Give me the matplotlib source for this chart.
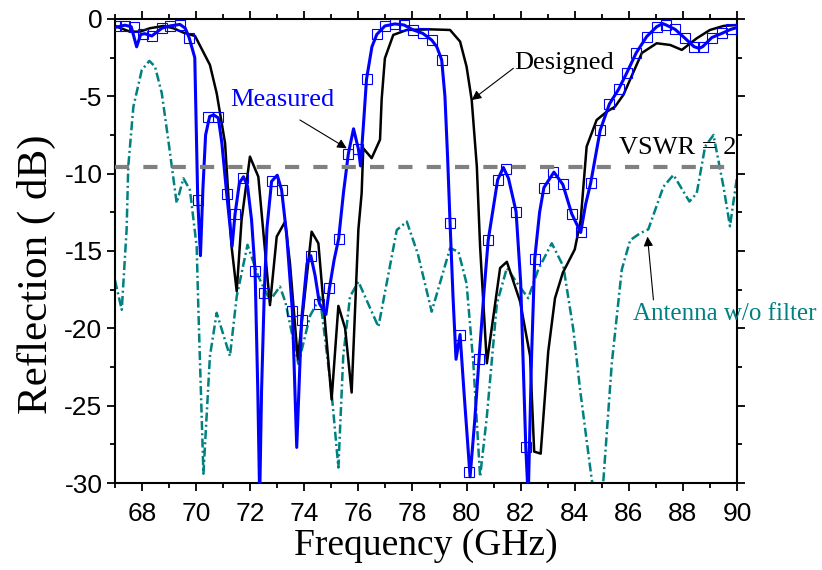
import matplotlib
matplotlib.use("Agg")
import matplotlib.pyplot as plt
from matplotlib.ticker import MultipleLocator

plt.rcParams['font.family'] = ['Liberation Serif', 'DejaVu Serif']
plt.rcParams['axes.unicode_minus'] = False

# Measured (blue) - traced curve
meas_f = [67.0, 67.37, 67.6, 67.8, 67.95, 68.1, 68.36, 68.73, 69.03, 69.4, 69.6, 69.74,
          69.95, 70.06, 70.16, 70.25, 70.35, 70.5, 70.65, 70.82, 70.95, 71.13, 71.33, 71.44,
          71.6, 71.75, 71.9, 72.05, 72.18, 72.28, 72.35, 72.42, 72.52, 72.62, 72.79, 73.0,
          73.16, 73.35, 73.56, 73.72, 73.9, 74.1, 74.24, 74.4, 74.56, 74.8, 74.93, 75.1,
          75.27, 75.45, 75.63, 75.82, 76.0, 76.08, 76.2, 76.3, 76.5, 76.68, 76.98, 77.35,
          77.69, 78.03, 78.38, 78.71, 78.9, 79.08, 79.2, 79.3, 79.39, 79.5, 79.61, 79.76,
          79.9, 80.13, 80.3, 80.46, 80.65, 80.8, 81.15, 81.36, 81.55, 81.83, 82.0, 82.19,
          82.28, 82.4, 82.52, 82.7, 82.86, 83.23, 83.56, 83.89, 84.22, 84.4, 84.59, 84.94,
          85.28, 85.62, 85.92, 86.27, 86.66, 87.03, 87.25, 87.38, 87.71, 88.08, 88.41, 88.6,
          88.73, 89.07, 89.44, 89.77, 90.0]
meas_db = [-0.55, -0.4, -0.5, -1.8, -1.0, -0.95, -1.1, -0.6, -0.45, -0.35, -0.6, -1.2,
           -2.5, -11.7, -15.3, -11.0, -7.5, -6.3, -6.2, -6.4, -8.0, -11.3, -14.7, -12.6,
           -10.6, -10.2, -10.8, -13.0, -16.3, -24.0, -31.0, -24.0, -17.7, -13.5, -10.5, -10.1,
           -11.05, -14.0, -18.9, -27.7, -19.45, -15.8, -15.3, -16.6, -18.4, -19.1, -17.4, -15.6,
           -14.2, -11.2, -8.7, -7.1, -8.4, -9.5, -6.5, -3.9, -1.8, -1.0, -0.45, -0.32,
           -0.39, -0.71, -0.93, -1.36, -1.8, -2.65, -5.0, -9.0, -13.2, -18.0, -22.0, -20.4,
           -24.0, -29.6, -26.0, -22.0, -17.5, -14.3, -10.4, -9.6, -10.3, -12.45, -17.0, -27.7,
           -31.0, -22.0, -15.5, -12.5, -10.9, -9.9, -10.7, -12.6, -13.8, -12.0, -10.6, -7.2,
           -5.5, -4.55, -3.5, -2.2, -1.14, -0.5, -0.3, -0.39, -0.67, -1.25, -1.79, -1.9,
           -1.79, -1.2, -0.93, -0.67, -0.55]

# Measured sample points (square markers)
mk_f = [67.04, 67.37, 67.7, 68.04, 68.36, 68.73, 69.03, 69.4, 69.74, 70.06, 70.45, 70.82,
        71.13, 71.44, 71.75, 72.18, 72.52, 72.79, 73.16, 73.56, 73.9, 74.24, 74.56, 74.93,
        75.27, 75.63, 76.0, 76.3, 76.68, 76.98, 77.35, 77.69, 78.03, 78.38, 78.71, 79.08,
        79.39, 79.76, 80.1, 80.46, 80.8, 81.15, 81.45, 81.83, 82.19, 82.52, 82.86, 83.2,
        83.56, 83.89, 84.22, 84.59, 84.94, 85.28, 85.62, 85.92, 86.27, 86.66, 87.03, 87.38,
        87.71, 88.08, 88.41, 88.73, 89.07, 89.44, 89.77]
mk_db = [-0.45, -0.45, -0.5, -1.0, -1.1, -0.6, -0.45, -0.4, -1.2, -11.7, -6.35, -6.35,
         -11.3, -12.6, -10.3, -16.3, -17.7, -10.5, -11.05, -18.9, -19.45, -15.3, -18.4, -17.4,
         -14.2, -8.7, -8.4, -3.9, -1.0, -0.45, -0.32, -0.39, -0.71, -0.93, -1.36, -2.65,
         -13.2, -20.4, -29.3, -22.0, -14.3, -10.4, -9.7, -12.45, -27.7, -15.5, -10.9, -9.9,
         -10.7, -12.6, -13.8, -10.6, -7.2, -5.5, -4.55, -3.5, -2.2, -1.14, -0.5, -0.39,
         -0.67, -1.25, -1.79, -1.79, -1.2, -0.93, -0.67]

# Designed (black)
des_f = [67.0, 67.55, 67.92, 68.29, 68.79, 69.16, 69.53, 69.96, 70.51, 70.76, 71.07, 71.31,
         71.5, 71.68, 71.99, 72.3, 72.73, 72.98, 73.29, 73.47, 73.76, 74.27, 74.52, 75.01,
         75.26, 75.51, 75.75, 76.0, 76.12, 76.18, 76.49, 76.8, 76.86, 76.98, 77.29, 77.79,
         78.65, 79.39, 79.76, 80.0, 80.19, 80.38, 80.5, 80.75, 81.24, 81.49, 81.98, 82.35,
         82.5, 82.74, 83.02, 83.27, 83.56, 84.0, 84.22, 84.44, 84.81, 85.18, 85.49, 85.8,
         86.48, 87.03, 87.53, 87.96, 88.51, 89.0, 89.5, 90.0]
des_db = [-0.45, -0.82, -0.82, -0.6, -0.45, -0.6, -0.88, -1.1, -2.97, -4.8, -8.03, -14.7,
          -17.6, -13.0, -8.9, -10.2, -18.5, -14.07, -13.1, -15.8, -22.0, -13.75, -14.5, -24.6,
          -18.55, -20.0, -24.15, -13.6, -11.27, -8.36, -9.0, -7.8, -5.2, -2.54, -1.03, -0.71,
          -0.67, -0.71, -1.46, -3.08, -5.24, -9.55, -14.7, -22.26, -16.1, -15.7, -18.27, -21.8,
          -27.97, -28.1, -21.5, -18.05, -16.4, -14.9, -13.0, -8.25, -6.53, -6.0, -5.67, -4.9,
          -2.2, -1.57, -1.68, -2.0, -1.25, -0.71, -0.45, -0.39]

# Antenna without filter (teal)
ant_f = [67.0, 67.25, 67.43, 67.49, 67.68, 67.99, 68.27, 68.48, 68.73, 68.97, 69.28, 69.53,
         69.77, 70.02, 70.08, 70.27, 70.51, 70.76, 71.25, 71.5, 71.9, 72.3, 72.73, 73.1,
         73.3, 73.78, 74.21, 74.58, 75.0, 75.26, 75.44, 75.69, 76.0, 76.74, 77.42, 77.79,
         78.2, 78.71, 79.39, 79.7, 80.0, 80.25, 80.5, 80.75, 81.12, 81.49, 81.92, 82.28,
         82.65, 83.15, 83.58, 83.95, 84.2, 84.63, 84.85, 85.06, 85.37, 85.74, 86.05, 86.42,
         86.72, 87.28, 87.65, 88.24, 88.51, 88.82, 89.13, 89.5, 89.74, 90.0]
ant_db = [-16.9, -18.8, -13.6, -9.55, -5.67, -3.3, -2.71, -3.08, -4.8, -7.82, -11.9, -10.3,
          -11.05, -14.7, -18.6, -29.4, -21.8, -19.0, -21.8, -17.95, -14.6, -16.65, -18.2, -17.3,
          -18.3, -22.3, -19.2, -18.0, -24.0, -29.0, -21.8, -17.95, -16.98, -19.9, -13.64, -13.1,
          -15.2, -18.92, -14.82, -15.04, -17.1, -22.26, -29.6, -25.7, -18.4, -16.1, -17.2, -18.05,
          -16.2, -14.5, -16.0, -20.1, -24.0, -29.8, -31.5, -29.8, -22.26, -16.2, -14.3, -13.85,
          -13.6, -10.84, -10.08, -11.8, -11.27, -8.25, -7.5, -10.84, -13.4, -10.2]

vswr_db = -9.54

fig = plt.figure(figsize=(8.22, 5.70), dpi=100)
ax = fig.add_axes([0.1399, 0.1526, 0.7567, 0.8141])

ax.plot(ant_f, ant_db, color='#008080', lw=1.8, ls=(0, (3.6, 1.3, 0.8, 1.3)), zorder=2)
ax.plot(des_f, des_db, color='black', lw=1.8, zorder=3)
ax.plot(meas_f, meas_db, color='#0000FF', lw=2.2, zorder=4)
ax.plot(mk_f, mk_db, ls='none', marker='s', ms=7, mfc='none', mec='#0000FF', mew=0.8, zorder=5)
ax.axhline(vswr_db, color='#808080', lw=3, ls=(0, (3.4, 3.4)), zorder=6)

ax.set_xlim(67, 90)
ax.set_ylim(-30, 0)
ax.xaxis.set_major_locator(MultipleLocator(2))
ax.xaxis.set_minor_locator(MultipleLocator(1))
ax.yaxis.set_major_locator(MultipleLocator(5))
ax.yaxis.set_minor_locator(MultipleLocator(2.5))
ax.tick_params(which='both', direction='out', top=True, right=True, width=1.3)
ax.tick_params(which='major', length=6)
ax.tick_params(which='minor', length=3.5)
ax.tick_params(axis='x', pad=8)
ax.tick_params(axis='y', pad=3)
for lab in ax.get_xticklabels() + ax.get_yticklabels():
    lab.set_fontfamily(['Liberation Sans', 'DejaVu Sans'])
    lab.set_fontsize(19)
for sp in ax.spines.values():
    sp.set_linewidth(1.5)

ax.set_xlabel('Frequency (GHz)', fontsize=27)
ax.set_ylabel('Reflection ( dB)', fontsize=31)
ax.xaxis.set_label_coords(0.5, -0.098)
ax.yaxis.set_label_coords(-0.095, 0.45)

ax.text(71.25, -5.62, 'Measured', color='#0000FF', fontsize=19, va='baseline')
ax.text(81.77, -3.23, 'Designed', color='black', fontsize=19, va='baseline')
ax.text(85.65, -8.73, 'VSWR = 2', color='black', fontsize=19, va='baseline')
ax.text(86.15, -19.46, 'Antenna w/o filter', color='#008080', fontsize=18,
        va='baseline', clip_on=False)

arrow = dict(arrowstyle='-|>', color='black', lw=0.8, mutation_scale=14, shrinkA=0, shrinkB=0)
ax.annotate('', xy=(75.57, -8.36), xytext=(73.84, -6.53), arrowprops=arrow)
ax.annotate('', xy=(80.19, -5.24), xytext=(81.73, -3.19), arrowprops=arrow)
ax.annotate('', xy=(86.69, -14.07), xytext=(86.91, -18.16), arrowprops=arrow)

fig.savefig('out.png', dpi=100)
